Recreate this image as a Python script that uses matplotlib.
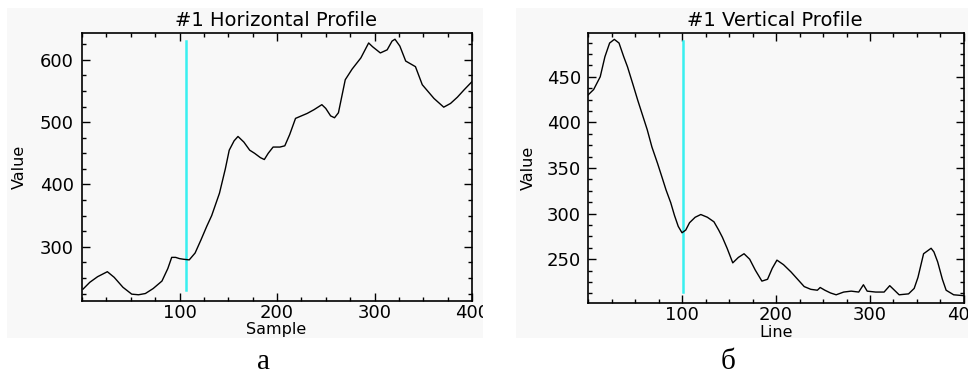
"""
Perfis horizontal e vertical (#1) lado a lado.
"""

import matplotlib

matplotlib.use("Agg")

import matplotlib.pyplot as plt
from matplotlib.patches import Rectangle
from matplotlib.ticker import MultipleLocator

# perfil horizontal (Sample x Value)
amostra_h = [
    1, 8, 16, 26, 33, 42, 51, 58, 65, 73, 82, 88, 92, 96, 100, 104,
    110, 116, 122, 128, 133, 141, 147, 151, 156, 160, 166, 172, 177,
    183, 187, 191, 196, 203, 208, 213, 219, 225, 231, 238, 246, 250,
    255, 259, 263, 270, 277, 286, 294, 298, 306, 313, 318, 321, 326,
    332, 342, 349, 355, 361, 371, 378, 385, 392, 400,
]
valor_h = [
    232, 243, 252, 260, 251, 235, 224, 223, 225, 233, 245, 265, 283,
    283, 281, 280, 279, 290, 311, 333, 350, 386, 425, 455, 470, 477,
    468, 455, 450, 443, 440, 450, 460, 460, 462, 480, 506, 510, 514,
    520, 528, 522, 510, 507, 515, 568, 585, 603, 627, 621, 611, 616,
    630, 633, 622, 598, 589, 560, 549, 538, 524, 530, 540, 552, 565,
]

# perfil vertical (Line x Value)
linha_v = [
    0, 6, 13, 18, 23, 28, 33, 38, 42, 48, 53, 58, 63, 68, 74, 79, 83,
    88, 92, 96, 100, 104, 108, 114, 120, 127, 134, 139, 143, 148,
    154, 160, 166, 172, 178, 185, 191, 196, 201, 208, 216, 223, 230,
    237, 244, 247, 252, 258, 264, 272, 280, 288, 293, 297, 306, 315,
    321, 326, 331, 341, 347, 351, 357, 365, 368, 372, 377, 381, 389,
    400,
]
valor_v = [
    430, 436, 450, 472, 487, 491, 487, 472, 461, 441, 424, 408, 392,
    373, 355, 339, 326, 312, 298, 286, 279, 282, 290, 296, 299, 296,
    291, 282, 274, 262, 246, 252, 256, 250, 238, 226, 228, 240, 249,
    244, 236, 228, 220, 217, 216, 219, 216, 213, 211, 214, 215, 214,
    222, 215, 214, 214, 221, 216, 211, 212, 218, 230, 256, 262, 258,
    247, 228, 216, 211, 210,
]

marcador_h = 107
marcador_v = 101

L, A = 968, 375
CINZA = "#f8f8f8"
CIANO = "#38f0f0"
fonte = {"family": "DejaVu Sans", "size": 11.5, "color": "black"}
fonte_tick = 13
fonte_titulo = {"family": "DejaVu Sans", "size": 14, "color": "black"}

fig = plt.figure(figsize=(L / 100, A / 100), dpi=100)
fig.patch.set_facecolor("white")

# fundos cinza de cada painel (pixels da imagem)
for x0, x1 in [(7, 483), (516, 968)]:
    fig.add_artist(Rectangle(
        (x0 / L, 1 - 338 / A), (x1 - x0) / L, 330 / A,
        transform=fig.transFigure, facecolor=CINZA,
        edgecolor="none", zorder=-5,
    ))


def painel(caixa, x, y, marcador, ylim, passo_y, titulo, rotulo_x,
           pos_titulo, pos_x, pos_y, pad_y):
    ax = fig.add_axes(caixa)
    ax.set_facecolor(CINZA)
    ax.plot(x, y, color="black", linewidth=1.0, zorder=3)
    ax.plot([marcador, marcador], [ylim[0] + 0.04 * (ylim[1] - ylim[0]),
                                   ylim[1] - 0.03 * (ylim[1] - ylim[0])],
            color=CIANO, linewidth=1.8, zorder=2)
    ax.set_xlim(0, 400)
    ax.set_ylim(*ylim)
    ax.xaxis.set_major_locator(MultipleLocator(100))
    ax.xaxis.set_minor_locator(MultipleLocator(25))
    ax.yaxis.set_major_locator(MultipleLocator(passo_y))
    ax.yaxis.set_minor_locator(MultipleLocator(passo_y / 4))
    ax.set_xticks([100, 200, 300, 400])
    ax.tick_params(which="both", direction="in", top=True, right=True,
                   width=1.0, color="black")
    ax.tick_params(which="major", length=6)
    ax.tick_params(which="minor", length=3)
    ax.tick_params(axis="x", pad=2)
    ax.tick_params(axis="y", pad=pad_y)
    for lbl in ax.get_xticklabels() + ax.get_yticklabels():
        lbl.set_fontfamily(fonte["family"])
        lbl.set_fontsize(fonte_tick)
    for s in ax.spines.values():
        s.set_linewidth(1.2)
    ax.set_xlabel(rotulo_x, fontdict=fonte)
    ax.xaxis.set_label_coords(*pos_x)
    ax.set_ylabel("Value", fontdict=fonte)
    ax.yaxis.set_label_coords(*pos_y)
    fig.text(pos_titulo[0] / L, 1 - pos_titulo[1] / A, titulo,
             ha="center", va="center", fontdict=fonte_titulo)
    return ax


painel([82 / L, 1 - 301 / A, 390 / L, 268 / A], amostra_h, valor_h,
       marcador_h, (213, 643), 100, "#1 Horizontal Profile", "Sample",
       (276, 20), (0.497, -0.078), (-0.141, 0.5), 6)

painel([588 / L, 1 - 303 / A, 376 / L, 270 / A], linha_v, valor_v,
       marcador_v, (202, 498), 50, "#1 Vertical Profile", "Line",
       (775, 21), (0.5, -0.08), (-0.138, 0.5), 5)

# faixa branca entre os paineis (corta o "400" do painel esquerdo)
fig.add_artist(Rectangle(
    (483 / L, 0), 33 / L, 1, transform=fig.transFigure,
    facecolor="white", edgecolor="none", zorder=10,
))

fig.text(264 / L, 1 - 362 / A, "а", ha="center", va="center",
         family="Liberation Serif", fontsize=21, zorder=11)
fig.text(728 / L, 1 - 362 / A, "б", ha="center", va="center",
         family="Liberation Serif", fontsize=21, zorder=11)

fig.savefig("out.png", dpi=100, facecolor="white")
plt.close(fig)
